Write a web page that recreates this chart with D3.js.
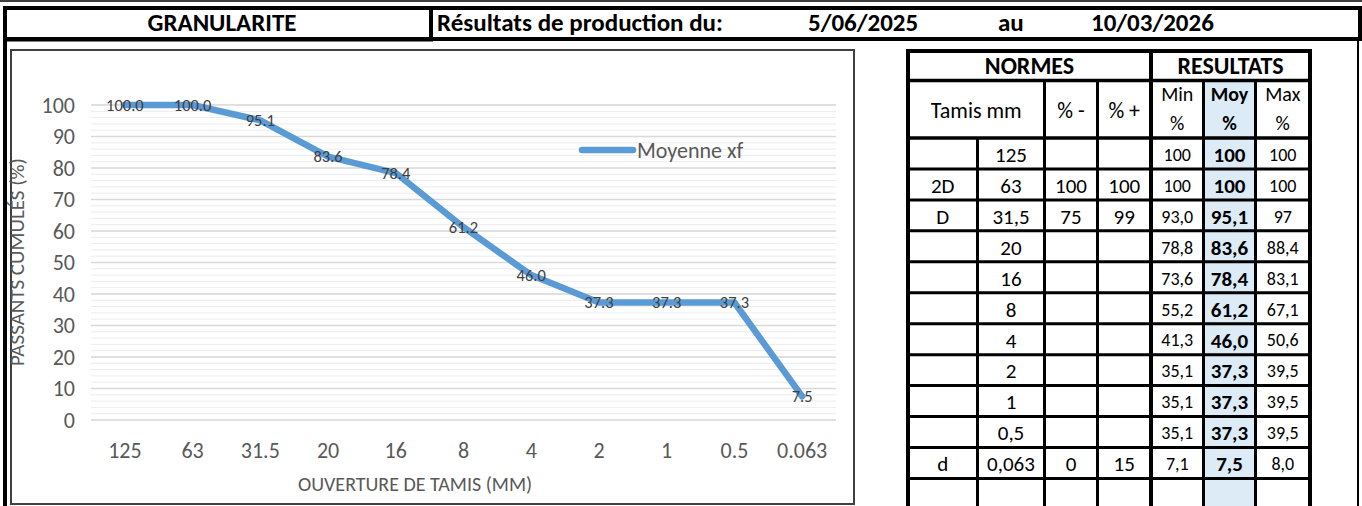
<!DOCTYPE html>
<html>
<head>
<meta charset="utf-8">
<script src="https://cdn.jsdelivr.net/npm/d3@7"></script>
<style>
	body { margin: 0; background: #fff; }
	svg { display: block; font-family: Carlito, Calibri, "Open Sans", sans-serif; }
</style>
</head>
<body>
<svg id="page" width="1362" height="506"></svg>
<script>
// chart data
var sieves  = ["125", "63", "31.5", "20", "16", "8", "4", "2", "1", "0.5", "0.063"];
var moyenne = [100.0, 100.0, 95.1, 83.6, 78.4, 61.2, 46.0, 37.3, 37.3, 37.3, 7.5];
var yTicks  = [0, 10, 20, 30, 40, 50, 60, 70, 80, 90, 100];

// table text
var tamisLabel = ["", "2D", "D", "", "", "", "", "", "", "", "d", ""];
var tamisText  = ["125", "63", "31,5", "20", "16", "8", "4", "2", "1", "0,5", "0,063", ""];
var normeMoins = ["", "100", "75", "", "", "", "", "", "", "", "0", ""];
var normePlus  = ["", "100", "99", "", "", "", "", "", "", "", "15", ""];
var minText = ["100", "100", "93,0", "78,8", "73,6", "55,2", "41,3", "35,1", "35,1", "35,1", "7,1", ""];
var moyText = ["100", "100", "95,1", "83,6", "78,4", "61,2", "46,0", "37,3", "37,3", "37,3", "7,5", ""];
var maxText = ["100", "100", "97", "88,4", "83,1", "67,1", "50,6", "39,5", "39,5", "39,5", "8,0", ""];

var headerTexts = ["GRANULARITE", "Résultats de production du:", "5/06/2025", "au", "10/03/2026"];

var svg = d3.select('#page');

/* ---------- page frame & header ---------- */
var frame = svg.append('g');
frame.append('line').attr('x1', 0).attr('x2', 1362).attr('y1', 1).attr('y2', 1)
	.attr('stroke', '#000').attr('stroke-width', 1.5);
frame.append('rect').attr('x', 5).attr('y', 8).attr('width', 1355).attr('height', 31)
	.attr('fill', 'none').attr('stroke', '#000').attr('stroke-width', 4);
frame.append('line').attr('x1', 431).attr('x2', 431).attr('y1', 8).attr('y2', 41)
	.attr('stroke', '#000').attr('stroke-width', 4);
frame.append('line').attr('x1', 5).attr('x2', 433).attr('y1', 40).attr('y2', 40)
	.attr('stroke', '#000').attr('stroke-width', 3);
frame.append('line').attr('x1', 5).attr('x2', 5).attr('y1', 8).attr('y2', 506)
	.attr('stroke', '#000').attr('stroke-width', 4);
frame.append('line').attr('x1', 1358).attr('x2', 1358).attr('y1', 39).attr('y2', 506)
	.attr('stroke', '#000').attr('stroke-width', 2);

var headerX = [222, 437, 808, 998, 1091];
var headerAnchor = ['middle', 'start', 'start', 'start', 'start'];
frame.selectAll('text.head')
	.data(headerTexts).enter().append('text')
	.attr('class', 'head')
	.attr('x', function(d, i) { return headerX[i]; })
	.attr('y', 31)
	.attr('text-anchor', function(d, i) { return headerAnchor[i]; })
	.style('font-weight', 'bold').style('font-size', '25px')
	.text(function(d) { return d; });

/* ---------- chart ---------- */
svg.append('rect').attr('x', 11).attr('y', 50).attr('width', 843).attr('height', 454)
	.attr('fill', '#fff').attr('stroke', '#404040').attr('stroke-width', 2);

var x = d3.scaleBand().domain(sieves).range([91, 836]);
var y = d3.scaleLinear().domain([0, 100]).range([420, 105]);
var cx = function(s) { return x(s) + x.bandwidth() / 2; };

var chart = svg.append('g');

// minor + major gridlines
chart.append('g').selectAll('line')
	.data(y.ticks(50)).enter().append('line')
	.attr('x1', 91).attr('x2', 836)
	.attr('y1', function(d) { return y(d); }).attr('y2', function(d) { return y(d); })
	.attr('stroke', '#ececec').attr('stroke-width', 1);
chart.append('g').selectAll('line')
	.data(yTicks).enter().append('line')
	.attr('x1', 91).attr('x2', 836)
	.attr('y1', function(d) { return y(d); }).attr('y2', function(d) { return y(d); })
	.attr('stroke', '#d9d9d9').attr('stroke-width', 1.5);

var yAxis = chart.append('g').attr('transform', 'translate(91,0)')
	.call(d3.axisLeft(y).tickValues(yTicks).tickSize(0).tickPadding(16));
var xAxis = chart.append('g').attr('transform', 'translate(0,' + y(0) + ')')
	.call(d3.axisBottom(x).tickSize(0).tickPadding(22));
[yAxis, xAxis].forEach(function(a) {
	a.select('.domain').remove();
	a.selectAll('text').style('font-size', '22px').style('fill', '#595959')
		.style('font-family', 'Carlito, Calibri, "Open Sans", sans-serif');
});

chart.append('text').attr('transform', 'translate(24,262) rotate(-90)')
	.attr('text-anchor', 'middle').style('font-size', '21px').style('fill', '#595959')
	.text('PASSANTS CUMULÉS (%)');
chart.append('text').attr('x', 415).attr('y', 491)
	.attr('text-anchor', 'middle').style('font-size', '20px').style('fill', '#595959')
	.text('OUVERTURE DE TAMIS (MM)');

var points = sieves.map(function(s, i) { return { s: s, v: moyenne[i] }; });
var line = d3.line()
	.x(function(d) { return cx(d.s); })
	.y(function(d) { return y(d.v); });
chart.append('path').datum(points).attr('d', line)
	.attr('fill', 'none').attr('stroke', '#5b9bd5').attr('stroke-width', 6.5)
	.attr('stroke-linejoin', 'round').attr('stroke-linecap', 'round');

chart.append('g').selectAll('text')
	.data(points).enter().append('text')
	.attr('x', function(d) { return cx(d.s); })
	.attr('y', function(d) { return y(d.v); })
	.attr('dy', '0.35em').attr('text-anchor', 'middle')
	.style('font-size', '16.5px').style('fill', '#404040')
	.text(function(d) { return d3.format('.1f')(d.v); });

// legend
chart.append('line').attr('x1', 582).attr('x2', 633).attr('y1', 150).attr('y2', 150)
	.attr('stroke', '#5b9bd5').attr('stroke-width', 6.5).attr('stroke-linecap', 'round');
chart.append('text').attr('x', 637).attr('y', 150).attr('dy', '0.35em')
	.style('font-size', '22px').style('fill', '#595959').text('Moyenne xf');

/* ---------- table ---------- */
var colX = [908, 977.5, 1044.5, 1097.5, 1151, 1203.5, 1255.5, 1310];
var rowY = d3.scaleLinear().domain([0, 12]).range([138, 138 + 30.95 * 12]);
var tbl = svg.append('g');

tbl.append('rect').attr('x', colX[5]).attr('y', 80.5)
	.attr('width', colX[6] - colX[5]).attr('height', 506 - 80.5).attr('fill', '#ddebf7');

function hline(x1, x2, yy, w) {
	tbl.append('line').attr('x1', x1).attr('x2', x2).attr('y1', yy).attr('y2', yy)
		.attr('stroke', '#000').attr('stroke-width', w);
}
function vline(xx, y1, y2, w) {
	tbl.append('line').attr('x1', xx).attr('x2', xx).attr('y1', y1).attr('y2', y2)
		.attr('stroke', '#000').attr('stroke-width', w);
}
hline(colX[0] - 2, colX[7] + 2, 51, 4);
hline(colX[0], colX[7], 80.5, 3.5);
hline(colX[0], colX[7], 138, 3.5);
d3.range(1, 12).forEach(function(k) { hline(colX[0], colX[7], rowY(k), 3); });
vline(colX[0], 49, 506, 4);
vline(colX[7], 49, 506, 4);
vline(colX[4], 49, 506, 4);
vline(colX[1], 138, 506, 3);
[2, 3, 5, 6].forEach(function(c) { vline(colX[c], 80.5, 506, 3); });

function cellText(txt, xx, yy, size, bold) {
	tbl.append('text').attr('x', xx).attr('y', yy).attr('dy', '0.35em')
		.attr('text-anchor', 'middle')
		.style('font-size', size + 'px').style('font-weight', bold ? 'bold' : 'normal')
		.text(txt);
}
var mid = function(c) { return (colX[c] + colX[c + 1]) / 2; };

cellText('NORMES', (colX[0] + colX[4]) / 2, 66, 24, true);
cellText('RESULTATS', (colX[4] + colX[7]) / 2, 66, 24, true);
cellText('Tamis mm', (colX[0] + colX[2]) / 2, 110, 22, false);
cellText('% -', mid(2), 110, 22, false);
cellText('% +', mid(3), 110, 22, false);
cellText('Min', mid(4), 94, 20, false);
cellText('%', mid(4), 123, 20, false);
cellText('Moy', mid(5), 94, 20, true);
cellText('%', mid(5), 123, 20, true);
cellText('Max', mid(6), 94, 20, false);
cellText('%', mid(6), 123, 20, false);

var columns = [
	{ c: 0, t: tamisLabel, size: 21, bold: false },
	{ c: 1, t: tamisText,  size: 21, bold: false },
	{ c: 2, t: normeMoins, size: 21, bold: false },
	{ c: 3, t: normePlus,  size: 21, bold: false },
	{ c: 4, t: minText,    size: 18, bold: false },
	{ c: 5, t: moyText,    size: 21, bold: true },
	{ c: 6, t: maxText,    size: 18, bold: false }
];
columns.forEach(function(col) {
	col.t.forEach(function(txt, r) {
		if (txt) cellText(txt, mid(col.c), (rowY(r) + rowY(r + 1)) / 2 + 1, col.size, col.bold);
	});
});
</script>
</body>
</html>
